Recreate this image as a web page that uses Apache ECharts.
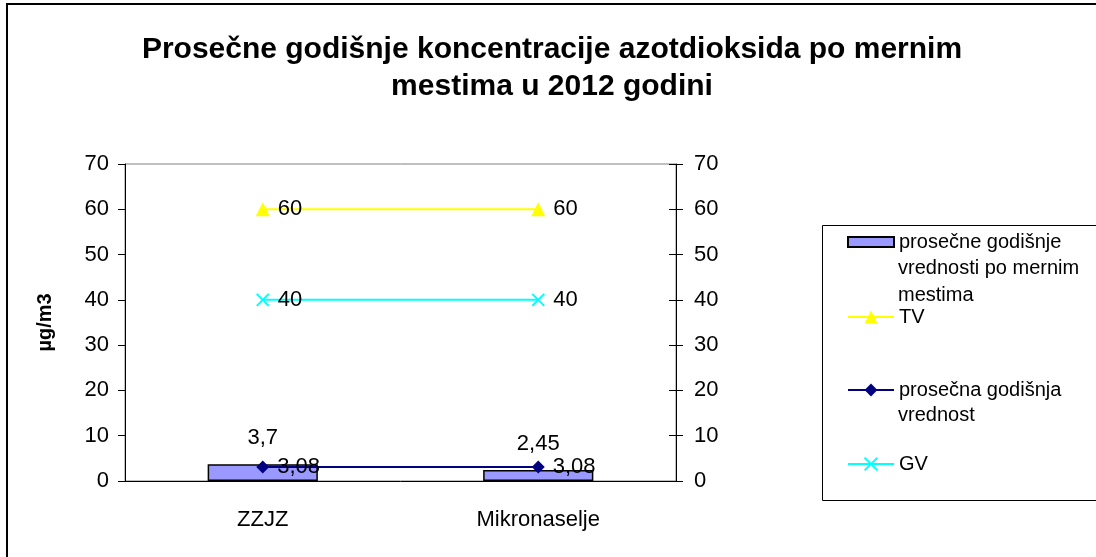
<!DOCTYPE html>
<html>
<head>
<meta charset="utf-8">
<script src="https://cdn.jsdelivr.net/npm/echarts@6/dist/echarts.min.js"></script>
<style>
  html, body { margin: 0; padding: 0; background: #fff; }
  #chart { width: 1096px; height: 557px; }
</style>
</head>
<body>
<div id="chart"></div>
<script>
// data
const categories = ["ZZJZ", "Mikronaselje"];
const barValues = [3.7, 2.45];
const tvValues = [60, 60];
const avgValues = [3.08, 3.08];
const gvValues = [40, 40];
const yTicks = { min: 0, max: 70, interval: 10 };

// legend names; the extra lines of the long ones are drawn under them
const barName = "prosečne godišnje";
const barNameRest = "vrednosti po mernim\nmestima";
const avgName = "prosečna godišnja";
const avgNameRest = "vrednost";

const font = "Liberation Sans, Arial, sans-serif";
const comma = (p) => String(p.value).replace(".", ",");

let myChart = echarts.init(document.getElementById("chart"));

const lineLabel = {
  show: true,
  position: "right",
  distance: 8,
  color: "#000",
  fontSize: 22,
  fontFamily: font,
  formatter: comma,
};

function legendAt(name, centerY, icon) {
  let lg = {
    orient: "vertical",
    left: 847,
    top: centerY - 11,
    padding: 0,
    itemWidth: 46,
    itemHeight: icon ? 10 : 16,
    data: [name],
    textStyle: { fontSize: 20, color: "#000", lineHeight: 22, fontFamily: font },
  };
  if (icon) lg.icon = icon;
  return lg;
}

let option = {
  animation: false,
  backgroundColor: "#fff",
  textStyle: { fontFamily: font },
  title: {
    text: "Prosečne godišnje koncentracije azotdioksida po mernim\nmestima u 2012 godini",
    left: 547,
    textAlign: "center",
    top: 26,
    textStyle: {
      fontSize: 30,
      fontWeight: "bold",
      color: "#000",
      lineHeight: 37,
      fontFamily: font,
    },
  },
  grid: {
    left: 125,
    right: 420,
    top: 164,
    bottom: 76,
    show: true,
    borderColor: "#808080",
    borderWidth: 1,
  },
  legend: [
    legendAt(barName, 242, "rect"),
    legendAt("TV", 317),
    legendAt(avgName, 390),
    legendAt("GV", 464),
  ],
  graphic: [
    {
      type: "rect",
      shape: { x: 7, y: 4, width: 1200, height: 1000 },
      style: { fill: "none", stroke: "#000", lineWidth: 2 },
      silent: true,
    },
    {
      type: "rect",
      shape: { x: 822.5, y: 225.5, width: 400, height: 275 },
      style: { fill: "none", stroke: "#000", lineWidth: 1 },
      silent: true,
    },
    {
      type: "text",
      left: 898,
      top: 255,
      style: { text: barNameRest, fontSize: 20, lineHeight: 27, fill: "#000", fontFamily: font },
      silent: true,
    },
    {
      type: "text",
      left: 898,
      top: 403,
      style: { text: avgNameRest, fontSize: 20, lineHeight: 25, fill: "#000", fontFamily: font },
      silent: true,
    },
  ],
  xAxis: {
    type: "category",
    data: categories,
    boundaryGap: true,
    axisLine: { lineStyle: { color: "#000" } },
    axisTick: { length: 7, lineStyle: { color: "#000" } },
    axisLabel: { color: "#000", fontSize: 22, margin: 28, fontFamily: font },
    splitLine: { show: false },
  },
  yAxis: [
    {
      type: "value",
      min: yTicks.min, max: yTicks.max, interval: yTicks.interval,
      position: "left",
      name: "µg/m3",
      nameLocation: "middle",
      nameGap: 70,
      nameTextStyle: { fontSize: 20, fontWeight: "bold", color: "#000", fontFamily: font },
      axisLine: { show: true, lineStyle: { color: "#000" } },
      axisTick: { show: true, length: 7, lineStyle: { color: "#000" } },
      axisLabel: { color: "#000", fontSize: 22, margin: 16, fontFamily: font },
      splitLine: { show: false },
    },
    {
      type: "value",
      min: yTicks.min, max: yTicks.max, interval: yTicks.interval,
      position: "right",
      axisLine: { show: true, lineStyle: { color: "#000" } },
      axisTick: { show: true, length: 7, lineStyle: { color: "#000" } },
      axisLabel: { color: "#000", fontSize: 22, margin: 18, fontFamily: font },
      splitLine: { show: false },
    },
    {
      type: "value",
      min: yTicks.min, max: yTicks.max, interval: yTicks.interval,
      position: "right",
      axisLine: { show: false },
      axisTick: { show: true, inside: true, length: 7, lineStyle: { color: "#000" } },
      axisLabel: { show: false },
      splitLine: { show: false },
    },
  ],
  series: [
    {
      name: barName,
      type: "bar",
      data: barValues,
      barWidth: "40%",
      itemStyle: { color: "#9999FF", borderColor: "#000", borderWidth: 1.5 },
      label: {
        show: true, position: "top", distance: 15, color: "#000", fontSize: 22,
        fontFamily: font, formatter: comma,
      },
      z: 1,
    },
    {
      name: "TV",
      type: "line",
      data: tvValues,
      symbol: "triangle",
      symbolSize: 14,
      lineStyle: { color: "#FFFF00", width: 2 },
      itemStyle: { color: "#FFFF00" },
      label: lineLabel,
      z: 3,
    },
    {
      name: avgName,
      type: "line",
      data: avgValues,
      symbol: "diamond",
      symbolSize: 13,
      lineStyle: { color: "#000080", width: 2 },
      itemStyle: { color: "#000080" },
      label: lineLabel,
      z: 3,
    },
    {
      name: "GV",
      type: "line",
      data: gvValues,
      symbol: "path://M0,0 L10,10 M10,0 L0,10",
      symbolSize: 12,
      lineStyle: { color: "#00FFFF", width: 2 },
      itemStyle: { color: "#00FFFF", borderColor: "#00FFFF", borderWidth: 2 },
      label: lineLabel,
      z: 3,
    },
  ],
};

myChart.setOption(option);
</script>
</body>
</html>
